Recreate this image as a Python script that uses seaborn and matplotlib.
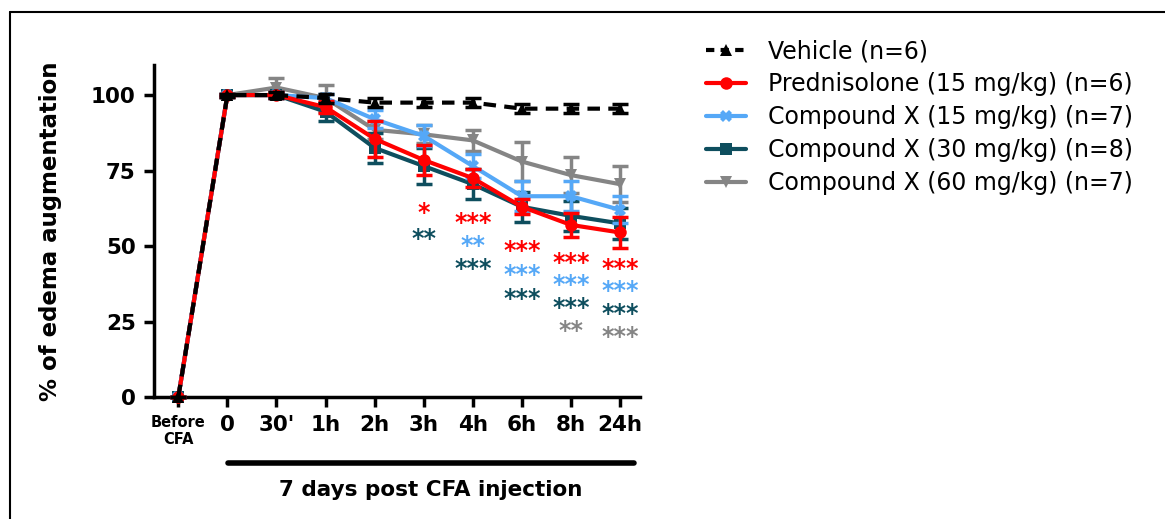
import numpy as np
import pandas as pd
import matplotlib
matplotlib.use("Agg")
import matplotlib.pyplot as plt
import seaborn as sns
from matplotlib.lines import Line2D

sns.set_style("ticks")
plt.rcParams['font.family'] = ['DejaVu Sans']
plt.rcParams['text.color'] = 'black'
plt.rcParams['axes.labelcolor'] = 'black'
plt.rcParams['xtick.color'] = 'black'
plt.rcParams['ytick.color'] = 'black'
plt.rcParams['axes.edgecolor'] = 'black'

# ---------------- data ----------------
time_labels = ["Before\nCFA", "0", "30'", "1h", "2h", "3h", "4h", "6h", "8h", "24h"]

vehicle_mean = [0, 100, 100, 99, 97.5, 97.5, 97.5, 95.5, 95.5, 95.5]
vehicle_sem = [0, 0.5, 1, 1.5, 1.5, 1.5, 1.5, 1.5, 1.5, 1.5]
pred_mean = [0, 100, 100, 96, 85.5, 78.5, 72.5, 63, 57, 54.5]
pred_sem = [0, 0.5, 1, 2, 6, 5, 3, 2.5, 4, 5]
cx15_mean = [0, 100, 100, 99, 92, 86.5, 76.5, 66.5, 66.5, 62]
cx15_sem = [0, 0.5, 1, 1.5, 3, 3.5, 4, 5, 5, 4.5]
cx30_mean = [0, 100, 100, 94.5, 82.5, 76.5, 70.5, 63, 60, 57.5]
cx30_sem = [0, 0.5, 1, 3, 5, 6, 5, 5, 5, 5]
cx60_mean = [0, 100, 102.5, 99, 88.5, 87, 85, 78, 73.5, 70.5]
cx60_sem = [0, 0.5, 3, 4.5, 3, 3, 3.5, 6.5, 6, 6]

series_names = ["Vehicle (n=6)", "Prednisolone (15 mg/kg) (n=6)",
                "Compound X (15 mg/kg) (n=7)", "Compound X (30 mg/kg) (n=8)",
                "Compound X (60 mg/kg) (n=7)"]
series_means = [vehicle_mean, pred_mean, cx15_mean, cx30_mean, cx60_mean]
series_sems = [vehicle_sem, pred_sem, cx15_sem, cx30_sem, cx60_sem]

# significance annotations: (time index, label, series index, y position)
sig_time = [5, 5, 6, 6, 6, 7, 7, 7, 8, 8, 8, 8, 9, 9, 9, 9]
sig_text = ["*", "**", "***", "**", "***", "***", "***", "***",
            "***", "***", "***", "**", "***", "***", "***", "***"]
sig_series = [1, 3, 1, 2, 3, 1, 2, 3, 1, 2, 3, 4, 1, 2, 3, 4]
sig_y = [61, 52.5, 57.5, 50, 42.5, 48.5, 40.5, 32.5, 44.5, 37, 29.5, 22, 42.5, 35, 27.5, 20]

# ---------------- styles ----------------
colors = ["#000000", "#FF0000", "#55A8F7", "#0E4E5E", "#858585"]
markers = ["^", "o", "X", "s", "v"]
zorders = [6, 5, 4, 3, 2]

rows = []
for name, m in zip(series_names, series_means):
    for i, v in enumerate(m):
        rows.append({"x": i, "y": v, "group": name})
df = pd.DataFrame(rows)

fig = plt.figure(figsize=(11.65, 5.19), dpi=100)
ax = fig.add_axes([0.132, 0.235, 0.417, 0.64])

# draw in reverse order so vehicle is on top
for k in [4, 3, 2, 1, 0]:
    name = series_names[k]
    sub = df[df["group"] == name]
    sns.lineplot(data=sub, x="x", y="y", ax=ax, color=colors[k], lw=3,
                 marker=markers[k], markersize=9, markeredgewidth=0,
                 zorder=zorders[k], clip_on=False, legend=False)
    ax.errorbar(range(len(time_labels)), series_means[k], yerr=series_sems[k],
                fmt="none", ecolor=colors[k], elinewidth=2.5, capsize=6,
                capthick=2.5, zorder=zorders[k], clip_on=False)

vline = [l for l in ax.get_lines() if matplotlib.colors.to_hex(l.get_color()) == "#000000"]
for l in vline:
    l.set_linestyle((0, (3, 2)))

for t, s, si, yy in zip(sig_time, sig_text, sig_series, sig_y):
    ax.text(t, yy, s, color=colors[si], ha="center", va="center",
            fontsize=17, fontweight="bold")

ax.set_xlim(-0.5, 9.4)
ax.set_ylim(0, 110)
ax.set_yticks([0, 25, 50, 75, 100])
ax.set_xticks(range(len(time_labels)))
ax.set_xticklabels(time_labels)
for i, lab in enumerate(ax.get_xticklabels()):
    lab.set_fontweight("bold")
    if i == 0:
        lab.set_fontsize(10.5)
    else:
        lab.set_fontsize(15.5)
for lab in ax.get_yticklabels():
    lab.set_fontweight("bold")
    lab.set_fontsize(15.5)
ax.set_xlabel("")
ax.set_ylabel("% of edema augmentation", fontsize=16.5, fontweight="bold", labelpad=21)
sns.despine(ax=ax)
for sp in ["left", "bottom"]:
    ax.spines[sp].set_linewidth(2.5)
ax.tick_params(width=2.5, length=7, color="black", pad=6)

# bar under x axis
fig.add_artist(Line2D([228 / 1165, 634 / 1165], [1 - 463 / 519, 1 - 463 / 519],
                      color="black", lw=4, transform=fig.transFigure))
fig.text(431 / 1165, 1 - 490 / 519, "7 days post CFA injection", ha="center",
         va="center", fontsize=15.5, fontweight="bold")

# legend
handles = []
for k in range(5):
    handles.append(Line2D([], [], color=colors[k], lw=3, marker=markers[k],
                          markersize=9, markeredgewidth=0,
                          linestyle=(0, (2, 1.5)) if k == 0 else "-"))
leg = fig.legend(handles, series_names, loc="upper left",
                 bbox_to_anchor=(0.588, 0.965), frameon=False, fontsize=17,
                 handlelength=1.7, handletextpad=0.9, labelspacing=0.38)
for t in leg.get_texts():
    t.set_color("black")

# figure frame: top and left edges only
fx = 9.5 / 1165
fy = 1 - 11.5 / 519
fig.add_artist(Line2D([fx, 1.0], [fy, fy], color="black", lw=1.5,
                      transform=fig.transFigure))
fig.add_artist(Line2D([fx, fx], [0.0, fy], color="black", lw=1.5,
                      transform=fig.transFigure))

fig.savefig("out.png", dpi=100)
